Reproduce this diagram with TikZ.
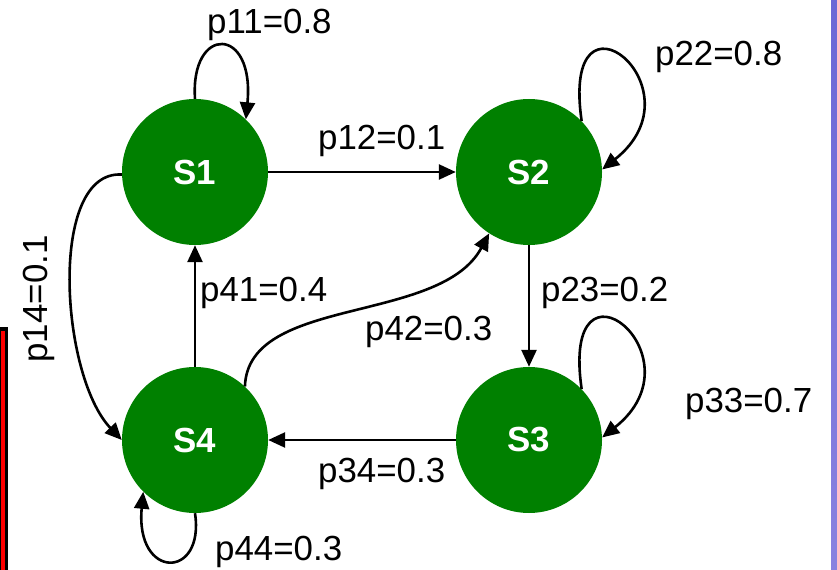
\documentclass[tikz,border=0pt]{standalone}
\usepackage{fontspec}
\setmainfont{Liberation Sans}
\usetikzlibrary{arrows.meta}
\definecolor{stategreen}{RGB}{0,128,0}
\definecolor{bartop}{RGB}{107,103,214}
\definecolor{barbottom}{RGB}{137,130,224}
\begin{document}
\begin{tikzpicture}[x=1bp,y=-1bp,
  state/.style={circle,fill=stategreen,minimum size=146bp,inner sep=0,
    text=white,font=\fontsize{35}{40}\selectfont\bfseries},
  prob/.style={inner sep=0,anchor=base west,font=\fontsize{35}{42}\selectfont},
  edge/.style={line width=2.6bp,-{Triangle[length=17bp,width=15bp]}}]
  % page area
  \useasboundingbox[fill=white] (0,0) rectangle (837,570);
  % side bars
  \fill[black] (0,327) rectangle (7.5,572);
  \fill[red] (1.4,330.5) rectangle (5.2,572);
  \shade[top color=bartop,bottom color=barbottom] (831,0) rectangle (837,570);

  % states
  \node[state] (S1) at (195,172) {S1};
  \node[state] (S2) at (529,172) {S2};
  \node[state] (S3) at (529,440) {S3};
  \node[state] (S4) at (195,440) {S4};

  % transitions
  \draw[edge] (S1) -- (S2);
  \draw[edge] (S2) -- (S3);
  \draw[edge] (S3) -- (S4);
  \draw[edge] (S4) -- (S1);
  \draw[edge] (S1.182) .. controls (48,170) and (60,375) .. (S4.180);
  \draw[edge] (S4.47) .. controls (248,295) and (440,325) .. (S2.237);
  % self loops
  \draw[edge] (S1.90) .. controls (190,25) and (255,25) .. (S1.46);
  \draw[edge] (S2.44) .. controls (560,-28) and (705,88) .. (S2.2);
  \draw[edge] (S3.44) .. controls (560,240) and (705,356) .. (S3.2);
  \draw[edge] (S4.270) .. controls (205,580) and (135,580) .. (S4.225);

  % probabilities
  \node[prob] (l11) at (207,34) {p11=0.8};
  \node[prob] (l12) at (318,150) {p12=0.1};
  \node[prob] (l22) at (655,66) {p22=0.8};
  \node[prob] (l23) at (541,301) {p23=0.2};
  \node[prob] (l41) at (200,301) {p41=0.4};
  \node[prob] (l42) at (365,340) {p42=0.3};
  \node[prob] (l33) at (685,412) {p33=0.7};
  \node[prob] (l34) at (318,482) {p34=0.3};
  \node[prob] (l44) at (215,560) {p44=0.3};
  \node[prob,anchor=base,rotate=90] (l14) at (47,299) {p14=0.1};
\end{tikzpicture}
\end{document}
